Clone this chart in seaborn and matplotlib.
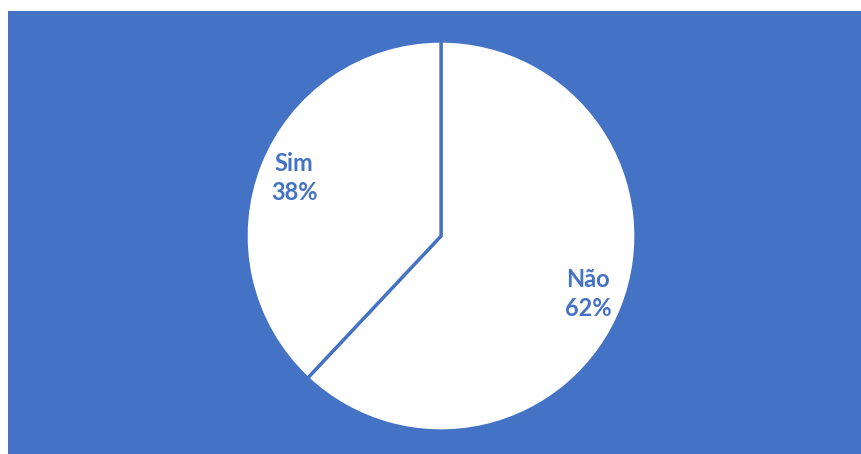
import matplotlib
matplotlib.use('Agg')
import matplotlib.pyplot as plt
import seaborn as sns
from matplotlib.patches import Rectangle

# data
categories = ['Não', 'Sim']
shares = [62, 38]

blue = '#4472C4'

sns.set_style('white')
plt.rcParams['font.family'] = ['Lato', 'DejaVu Sans']

W, H = 861, 454
fig = plt.figure(figsize=(W / 100, H / 100), dpi=100)
fig.patch.set_facecolor('white')

# blue chart area (small white margin top/left)
fig.patches.append(Rectangle((8 / W, 0), 1 - 8 / W, 1 - 11 / H,
                             transform=fig.transFigure, facecolor=blue,
                             edgecolor='none', zorder=-5))

cx, cy, r = 441, 236, 195
ax = fig.add_axes([(cx - r) / W, (H - cy - r) / H, 2 * r / W, 2 * r / H])
ax.set_facecolor('none')
ax.set_zorder(5)

labels = [f'{c}\n{v}%' for c, v in zip(categories, shares)]
wedges, texts = ax.pie(shares, labels=labels, startangle=90, counterclock=False,
                       colors=['white', 'white'], labeldistance=0.81,
                       wedgeprops=dict(edgecolor=blue, linewidth=2.4),
                       textprops=dict(color=blue, fontsize=17, fontweight='bold'))
for t in texts:
    t.set_ha('center')
    t.set_va('center')
    t.set_linespacing(1.3)
for w in wedges:
    w.set_clip_on(False)

ax.set_xlim(-1, 1)
ax.set_ylim(-1, 1)
ax.axis('off')

fig.savefig('out.png', dpi=100)
